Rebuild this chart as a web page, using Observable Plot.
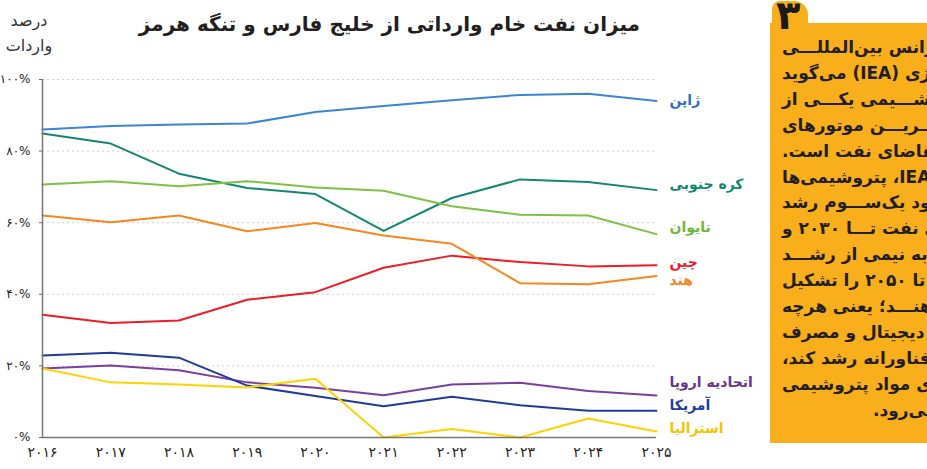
<!DOCTYPE html>
<html lang="fa">
<head>
<meta charset="utf-8">
<script src="https://cdn.jsdelivr.net/npm/d3@7"></script>
<script src="https://cdn.jsdelivr.net/npm/@observablehq/plot@0.6"></script>
<style>
  html, body { margin: 0; padding: 0; background: #fff; }
  body { width: 927px; height: 469px; overflow: hidden; position: relative; font-family: "DejaVu Sans", sans-serif; }
  #chart { position: absolute; left: 0; top: 0; }
  #title { position: absolute; left: 150px; width: 490px; top: 12px; text-align: center; font-weight: bold; font-size: 20px; color: #231f20; direction: rtl; white-space: nowrap; }
  #ylabel { position: absolute; left: 0px; width: 58px; top: 8px; text-align: center; font-size: 16px; line-height: 25px; color: #333; direction: rtl; }
  #panel { position: absolute; left: 770px; top: 23px; width: 200px; height: 420px; background: #f9ae1b; overflow: hidden; }
  #badge { position: absolute; left: 772px; top: 1px; width: 36px; height: 32px; background: #f9ae1b; border-radius: 8px 14px 4px 10px; }
  #badgeNum { position: absolute; left: 776px; top: -9px; font-size: 40px; font-weight: bold; color: #1a1a1a; line-height: 48px; }
  .ln { position: absolute; left: 12px; width: 500px; direction: rtl; text-align: left; white-space: nowrap; font-weight: bold; font-size: 17px; color: #231f20; line-height: 20px; }
  #chart svg g[aria-label="y-axis tick label"] text { letter-spacing: -0.6px; }
</style>
</head>
<body>
<div id="chart"></div>
<div id="title">میزان نفت خام وارداتی از خلیج فارس و تنگه هرمز</div>
<div id="ylabel">درصد<br>واردات</div>
<div id="panel"></div>
<div id="badge"></div>
<div id="badgeNum">۳</div>
<script>
// ---- data ----
const years = [2016, 2017, 2018, 2019, 2020, 2021, 2022, 2023, 2024, 2025];
const seriesNames = ["ژاپن", "کره جنوبی", "تایوان", "چین", "هند", "اتحادیه اروپا", "آمریکا", "استرالیا"];
const japan      = [86.0, 87.0, 87.4, 87.7, 90.9, 92.6, 94.2, 95.7, 96.0, 94.0];
const southKorea = [84.9, 82.1, 73.7, 69.7, 68.0, 57.7, 66.9, 72.1, 71.4, 69.1];
const taiwan     = [70.7, 71.6, 70.2, 71.6, 69.8, 68.9, 64.6, 62.2, 62.0, 56.8];
const china      = [34.3, 32.0, 32.7, 38.5, 40.6, 47.4, 50.8, 49.0, 47.8, 48.1];
const india      = [62.0, 60.1, 62.0, 57.6, 59.9, 56.4, 54.1, 43.1, 42.8, 45.1];
const eu         = [19.3, 20.1, 18.8, 15.4, 13.9, 11.8, 14.8, 15.3, 13.0, 11.7];
const usa        = [22.9, 23.7, 22.3, 14.5, 11.6, 8.7, 11.4, 9.0, 7.5, 7.5];
const australia  = [19.3, 15.4, 14.8, 14.0, 16.4, 0.0, 2.4, 0.0, 5.3, 1.7];
const yTicks = [0, 20, 40, 60, 80, 100];
const panelLines = [
  "آژانس بین‌المللـــی",
  "انرژی (IEA) می‌گوید",
  "پتروشـــیمی یکـــی از",
  "بزرگ‌تـــریـــن موتورهای",
  "رشد تقاضای نفت است.",
  "به گزارش IEA، پتروشیمی‌ها",
  "حدود یک‌ســـوم رشد",
  "تقاضای نفت تـــا ۲۰۳۰ و",
  "نزدیک به نیمی از رشـــد",
  "تقاضا تا ۲۰۵۰ را تشکیل",
  "می‌دهنـــد؛ یعنی هرچه",
  "اقتصاد دیجیتال و مصرف",
  "کالاهای فناورانه رشد کند،",
  "تقاضا برای مواد پتروشیمی",
  "بالاتر می‌رود."
];

// ---- styles / layout ----
const colors = ["#3a86d4", "#13876f", "#7dc242", "#ee1c25", "#f7861f", "#7b3f9e", "#1f3c9c", "#ffd200"];
const labelColors = ["#2f6fc0", "#13876f", "#6fb83a", "#ee1c25", "#f7861f", "#6b3490", "#1f3c9c", "#f5c400"];
const labelDy = [0, -6, -7, -3, 4, -13, -5, -3];

const valuesList = [japan, southKorea, taiwan, china, india, eu, usa, australia];
const rows = [];
seriesNames.forEach((s, i) => years.forEach((y, j) => rows.push({series: s, year: y, value: valuesList[i][j]})));

const fa = s => String(s).replace(/\d/g, d => "۰۱۲۳۴۵۶۷۸۹"[d]);

const labelMarks = seriesNames.map((s, i) => Plot.text([{series: s, year: years[years.length - 1], value: valuesList[i][years.length - 1]}], {
  x: "year", y: "value", text: "series", textAnchor: "start", dx: 13, dy: labelDy[i],
  fill: labelColors[i], fontSize: 14, fontWeight: "bold"
}));

const chart = Plot.plot({
  width: 770, height: 469,
  marginLeft: 42, marginRight: 114, marginTop: 79, marginBottom: 32,
  style: {background: "transparent", fontFamily: "DejaVu Sans, sans-serif", color: "#222"},
  x: {domain: [2016, 2025], ticks: years, tickFormat: d => fa(d), label: null},
  y: {domain: [0, 100], ticks: yTicks, tickFormat: d => fa(d) + "%", label: null},
  color: {domain: seriesNames, range: colors},
  marks: [
    Plot.ruleY(yTicks.filter(d => d > 0), {stroke: "#cfcfcf", strokeDasharray: "2,3", strokeWidth: 1}),
    Plot.axisX({ticks: years, tickFormat: d => fa(d), tickSize: 0, tickPadding: 10, fontSize: 14, fill: "#222"}),
    Plot.axisY({ticks: yTicks, tickFormat: d => fa(d) + "%", tickSize: 3, tickPadding: 9, fontSize: 12, fill: "#222", stroke: "#666"}),
    Plot.line(rows, {x: "year", y: "value", z: "series", stroke: "series", strokeWidth: 2}),
    Plot.ruleX([2016], {y1: 0, y2: 100, stroke: "#777", strokeWidth: 1.5}),
    Plot.ruleY([0], {x1: 2016, x2: 2025, stroke: "#777", strokeWidth: 1.5}),
    ...labelMarks
  ]
});
document.getElementById("chart").appendChild(chart);

const panel = document.getElementById("panel");
panelLines.forEach((t, i) => {
  const d = document.createElement("div");
  d.className = "ln";
  d.textContent = t;
  d.style.top = (14 + i * 25.9) + "px";
  if (i === panelLines.length - 1) d.style.left = "103px";
  panel.appendChild(d);
});
</script>
</body>
</html>
